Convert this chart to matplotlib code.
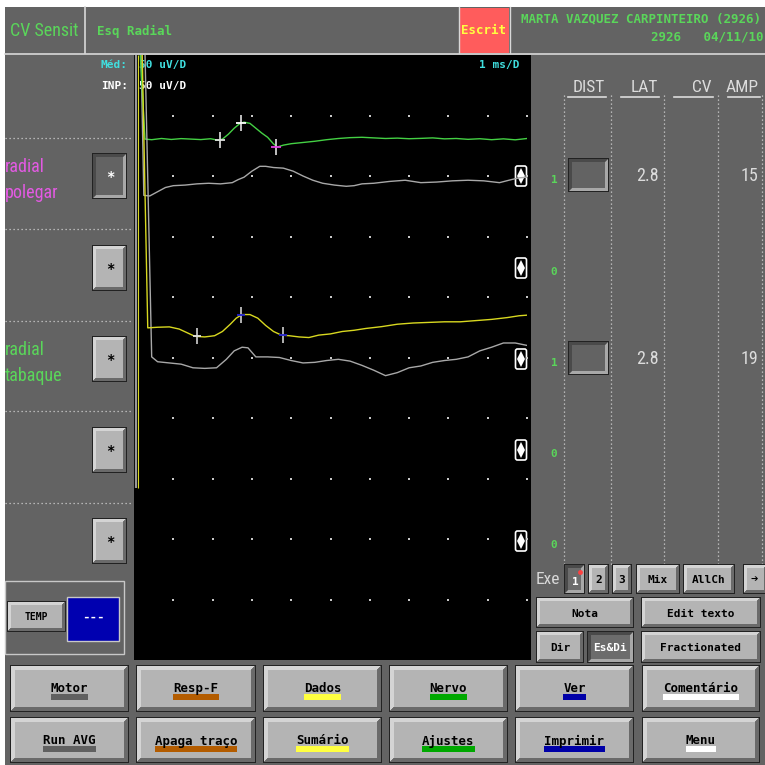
import matplotlib
matplotlib.use('Agg')
import matplotlib.pyplot as plt
import matplotlib.font_manager as fm
from matplotlib.patches import Rectangle, Polygon, FancyBboxPatch

# ---------------- data ----------------
UV_PER_DIV = 50.0
# trace 1 (radial polegar) averaged (green) and raw (gray)
t_green = [0.15, 0.28, 0.45, 0.7, 0.95, 1.2, 1.45, 1.7, 1.95, 2.15, 2.25, 2.4, 2.55, 2.7, 2.8, 2.95, 3.1, 3.25,
           3.4, 3.55, 3.65, 3.8, 4.0, 4.3, 4.6, 4.9, 5.2, 5.5, 5.8, 6.1, 6.4, 6.7, 7.0, 7.3, 7.6, 7.9, 8.2, 8.5,
           8.8, 9.1, 9.4, 9.7, 10.0]
v_green = [75, 0, -0.5, 0.5, -0.3, 0.4, 0, -0.4, 0.3, -1, 0, 4, 9, 13, 14, 13, 9, 5, 1.5, -4, -6.5, -5, -3.8,
           -2.8, -1.8, -0.5, 0.5, 1.2, 1.5, 1, 0.5, 0.8, 0.3, 0.6, 1, 0.2, 0.5, -0.2, 0.3, -0.5, 0.2, -0.6, 0.5]
t_gray1 = [0.12, 0.25, 0.4, 0.6, 0.8, 1.0, 1.3, 1.6, 1.9, 2.2, 2.5, 2.65, 2.8, 3.0, 3.2, 3.35, 3.55, 3.8, 4.05,
           4.3, 4.55, 4.8, 5.1, 5.4, 5.6, 5.8, 6.1, 6.5, 6.9, 7.3, 7.7, 8.1, 8.5, 8.9, 9.3, 9.6, 9.8, 10.0]
v_gray1 = [200, -10, -10.5, -7, -3.5, -2, -1.5, -0.5, 0, -0.5, 0.5, 3, 5, 10, 14, 14, 13, 12.5, 10, 6, 2.5, 0,
           -1.5, -2.5, -2, -0.5, 0, 1.5, 2.5, 0.5, 1, 2, 2.5, 2, 0.5, 3, 4.5, 5]
# trace 2 (radial tabaque) averaged (yellow) and raw (gray)
t_yellow = [0.1, 0.35, 0.6, 0.9, 1.15, 1.35, 1.55, 1.8, 2.05, 2.25, 2.45, 2.6, 2.75, 2.95, 3.15, 3.35, 3.55, 3.75,
            3.95, 4.2, 4.45, 4.7, 5.0, 5.3, 5.6, 5.9, 6.3, 6.7, 7.1, 7.5, 7.9, 8.3, 8.7, 9.1, 9.5, 9.8, 10.0]
v_yellow = [400, 0, 0.5, 0.8, -1, -4, -7, -7.5, -6.5, -3, 3, 8, 11, 11, 8, 2, -3, -6, -6.5, -7.5, -8, -6, -5, -3,
            -2, -0.5, 1, 3, 4, 4.5, 5, 5, 6, 7, 8.5, 10, 10.5]
t_gray2 = [0.25, 0.45, 0.6, 0.9, 1.2, 1.5, 1.8, 2.1, 2.35, 2.55, 2.75, 2.9, 3.1, 3.4, 3.7, 4.0, 4.3, 4.6, 4.9, 5.2,
           5.5, 5.8, 6.1, 6.4, 6.7, 7.0, 7.3, 7.6, 7.9, 8.2, 8.5, 8.8, 9.1, 9.4, 9.7, 10.0]
v_gray2 = [300, 5, 1, 0, -1, -4, -4.5, -4, 3, 10, 13, 12.5, 5, 5, 4.5, 2, 0, 0.5, 2, 3, 1.5, -2, -6, -10.5, -8,
           -4, -2.5, 0.5, 2, 3, 5, 10, 13, 16.5, 16.5, 14.5]
offset_div = {'green': 8.61, 'gray1': 7.88, 'yellow': 5.49, 'gray2': 4.91}
# latency cursors
cur1_t = [2.2, 2.72, 3.62]
cur1_v = [-0.5, 13.5, -6.5]
cur2_t = [1.6, 2.72, 3.8]
cur2_v = [-7, 11, -6]

# results table
row_channel = ['1', '0', '1', '0', '0']
row_lat = ['2.8', '', '2.8', '', '']
row_amp = ['15', '', '19', '', '']
table_headers = ['DIST', 'LAT', 'CV', 'AMP']
site_labels = [('radial', 'polegar', '#e35ae3'), ('radial', 'tabaque', '#5ad65a')]

bottom_row1 = [('Motor', '#606060'), ('Resp-F', '#b35c00'), ('Dados', '#ffff40'),
               ('Nervo', '#00a800'), ('Ver', '#0000a8'), ('Comentário', '#ffffff')]
bottom_row2 = [('Run AVG', '#606060'), ('Apaga traço', '#b35c00'), ('Sumário', '#ffff40'),
               ('Ajustes', '#00a800'), ('Imprimir', '#0000a8'), ('Menu', '#ffffff')]

# ---------------- fonts ----------------
MONO = 'DejaVu Sans Mono'
_cond = sorted({f.name for f in fm.fontManager.ttflist
                if ('Condensed' in f.name or 'Narrow' in f.name
                    or str(f.stretch) in ('condensed', 'semi-condensed', 'extra-condensed', '75', '87', '62'))})
NARROW_OK = False
NARROW = ['Roboto', 'DejaVu Sans']
for pref in ['Liberation Sans Narrow', 'Roboto Condensed', 'Open Sans Condensed', 'Noto Sans Condensed',
             'Noto Sans Display Condensed', 'DejaVu Sans Condensed']:
    if pref in _cond:
        NARROW = [pref, 'DejaVu Sans']
        NARROW_OK = True
        break
if not NARROW_OK and _cond:
    NARROW = [_cond[0], 'DejaVu Sans']
    NARROW_OK = True
NSIZE = 12 if NARROW_OK else 10.5
NWEIGHT = 'normal' if NARROW_OK else 'light'

# ---------------- figure ----------------
W = 765
fig = plt.figure(figsize=(7.65, 7.65), dpi=100)
fig.patch.set_facecolor('white')
ax = fig.add_axes([0, 0, 1, 1])
ax.set_xlim(0, W)
ax.set_ylim(W, 0)
ax.axis('off')

GRAY = '#636363'
ax.add_patch(Rectangle((5, 7), 760, 758, fc=GRAY, ec='none', zorder=0))


def ntext(x, y, s, color, ha='left', size=None):
    ax.text(x, y, s, color=color, fontsize=size or NSIZE, family=NARROW, weight=NWEIGHT,
            fontstretch='condensed', ha=ha, va='center', zorder=5)


def button(x0, y0, x1, y1, pressed=False, b=3, face=None):
    if face is None:
        face = '#6c6c6c' if pressed else '#b4b4b4'
    light, dark = ('#4a4a4a', '#a8a8a8') if pressed else ('#d4d4d4', '#6a6a6a')
    ax.add_patch(Rectangle((x0, y0), x1 - x0, y1 - y0, fc='#222222', ec='none', zorder=2))
    a0, c0, a1, c1 = x0 + 1, y0 + 1, x1 - 1, y1 - 1
    ax.add_patch(Polygon([(a0, c0), (a1, c0), (a1 - b, c0 + b), (a0 + b, c0 + b), (a0 + b, c1 - b), (a0, c1)],
                         closed=True, fc=light, ec='none', zorder=2))
    ax.add_patch(Polygon([(a1, c0), (a1, c1), (a0, c1), (a0 + b, c1 - b), (a1 - b, c1 - b), (a1 - b, c0 + b)],
                         closed=True, fc=dark, ec='none', zorder=2))
    ax.add_patch(Rectangle((a0 + b, c0 + b), a1 - a0 - 2 * b, c1 - c0 - 2 * b, fc=face, ec='none', zorder=2))


def btext(x, y, s, color='black', size=8.5, **kw):
    ax.text(x, y, s, color=color, fontsize=size, family=MONO, weight='bold', ha='center', va='center',
            zorder=5, **kw)


# ---------------- header ----------------
ax.plot([5, 765], [53.5, 53.5], color='#d8d8d8', lw=1.2, zorder=1)
ax.plot([85.5, 85.5], [7, 53], color='#d8d8d8', lw=1.2, zorder=1)
ax.add_patch(Rectangle((459, 8), 50, 45, fc='#ff5c5c', ec='none', zorder=1))
ax.plot([459, 459], [7, 53], color='#d8d8d8', lw=1, zorder=1)
ax.plot([510, 510], [7, 53], color='#d8d8d8', lw=1, zorder=1)
ntext(10, 31, 'CV Sensit', '#5ad65a', size=NSIZE + 1)
ax.text(97, 31, 'Esq Radial', color='#5ad65a', fontsize=9, family=MONO, weight='bold', va='center')
ax.text(484, 30, 'Escrit', color='#ffff40', fontsize=9, family=MONO, weight='bold', va='center', ha='center')
ax.text(521, 19, 'MARTA VAZQUEZ CARPINTEIRO (2926)', color='#5ad65a', fontsize=9, family=MONO,
        weight='bold', va='center', ha='left')
ax.text(651, 37, '2926   04/11/10', color='#5ad65a', fontsize=9, family=MONO, weight='bold',
        va='center', ha='left')

# ---------------- trace area ----------------
ax.add_patch(Rectangle((134, 55), 397, 605, fc='black', ec='none', zorder=1))
ax.text(128, 65, 'Méd:', color='#40e0e0', fontsize=8, family=MONO, weight='bold', va='center', ha='right', zorder=6)
ax.text(128, 86, 'INP:', color='white', fontsize=8, family=MONO, weight='bold', va='center', ha='right', zorder=6)
ax.text(139, 65, '50 uV/D', color='#40e0e0', fontsize=8, family=MONO, weight='bold', va='center', zorder=6)
ax.text(139, 86, '50 uV/D', color='white', fontsize=8, family=MONO, weight='bold', va='center', zorder=6)
ax.text(520, 65, '1 ms/D', color='#40e0e0', fontsize=8, family=MONO, weight='bold', va='center', ha='right',
        zorder=6)

axt = fig.add_axes([134 / W, 1 - 660 / W, (527 - 134) / W, 605 / W])
axt.set_xlim(0, 10)
axt.set_ylim(0, 10)
axt.patch.set_alpha(0)
axt.axis('off')
# graticule dots
for k in range(1, 11):
    axt.scatter([k] * 9, list(range(1, 10)), s=1.2, c='#c8c8c8', marker='s', lw=0, zorder=1)
# stimulus artifact verticals
axt.vlines(0.04, 2.85, 10, color='#9a9a9a', lw=1.6, zorder=2)
axt.vlines(0.1, 2.85, 10, color='#d8d820', lw=0.8, zorder=2)


def tr(tv, vv, key):
    return tv, [offset_div[key] + v / UV_PER_DIV for v in vv]


axt.plot(*tr(t_gray1, v_gray1, 'gray1'), color='#a8a8a8', lw=1.0, zorder=3)
axt.plot(*tr(t_green, v_green, 'green'), color='#44d044', lw=1.0, zorder=3)
axt.plot(*tr(t_gray2, v_gray2, 'gray2'), color='#a8a8a8', lw=1.0, zorder=3)
axt.plot(*tr(t_yellow, v_yellow, 'yellow'), color='#d8d820', lw=1.0, zorder=3)

g_t, g_y = tr(cur1_t, cur1_v, 'green')
for (tt, yy, hc) in zip(g_t, g_y, ['#e0e0e0', '#ffffff', '#e040e0']):
    axt.plot([tt], [yy], marker='|', ms=11, color='#d0d0d0', mew=1.3, zorder=4)
    axt.plot([tt], [yy], marker='_', ms=7, color=hc, mew=1.3, zorder=4)
y_t, y_y = tr(cur2_t, cur2_v, 'yellow')
for (tt, yy, hc) in zip(y_t, y_y, ['#e0e0e0', '#2020d0', '#2020d0']):
    axt.plot([tt], [yy], marker='|', ms=11, color='#c0c0c0', mew=1.3, zorder=4)
    axt.plot([tt], [yy], marker='_', ms=6, color=hc, mew=1.3, zorder=4)

# scroll icons
row_y = [176, 268, 359, 450, 541]
for yc in row_y:
    ax.add_patch(FancyBboxPatch((515.5, yc - 10), 11, 20, boxstyle='round,pad=0,rounding_size=2',
                                fc='black', ec='white', lw=1.2, zorder=6))
    ax.plot([521], [yc - 4], marker='^', ms=6, color='white', mew=0, zorder=7)
    ax.plot([521], [yc + 4], marker='v', ms=6, color='white', mew=0, zorder=7)

# ---------------- left panel ----------------
for yl in [138, 229, 321, 411, 503]:
    ax.plot([5, 133], [yl, yl], color='#d0d0d0', lw=0.9, ls=(0, (1, 2.2)), zorder=2)
site_y = [(167, 193), (350, 376)]
for (l1, l2, col), (y1, y2) in zip(site_labels, site_y):
    ntext(5, y1, l1, col, size=NSIZE + 1)
    ntext(5, y2, l2, col, size=NSIZE + 1)
for i, yc in enumerate(row_y):
    pressed = (i == 0)
    button(92, yc - 23, 127, yc + 23, pressed=pressed, b=3, face=GRAY if pressed else None)
    ax.text(110, yc + 1, '*', color='white' if pressed else 'black', fontsize=10, family=MONO, weight='bold',
            ha='center', va='center', zorder=5)
# temperature box
ax.add_patch(Rectangle((5, 580.5), 119, 73, fc='none', ec='#c8c8c8', lw=1, zorder=2))
button(7, 601, 66, 632, b=3)
btext(36.5, 617, 'TEMP', size=7)
ax.add_patch(Rectangle((67, 596.5), 52, 44, fc='#0000b0', ec='#c8c8c8', lw=1, zorder=3))
btext(93, 617, '---', color='white', size=9)

# ---------------- right panel ----------------
hdr_x = [(568, 606), (621, 659), (674, 713), (728, 760)]
for h, (x0, x1) in zip(table_headers, hdr_x):
    ntext(x1 - 1, 87, h, '#dcdcdc', ha='right', size=NSIZE + 0.5)
    ax.plot([x0, x1], [96.5, 96.5], color='#dcdcdc', lw=1.2, zorder=5)
for xv in [564, 611, 664, 718, 762]:
    ax.plot([xv, xv], [95, 565], color='#d0d0d0', lw=0.9, ls=(0, (1, 2.2)), zorder=2)
for yc, ch, lat, amp in zip(row_y, row_channel, row_lat, row_amp):
    ax.text(554, yc + 4, ch, color='#5ad65a', fontsize=8, family=MONO, weight='bold', ha='center',
            va='center', zorder=5)
    if lat:
        button(568, yc - 18, 609, yc + 16, pressed=True, b=3, face=GRAY)
        ntext(659, yc, lat, '#dcdcdc', ha='right', size=NSIZE + 1)
        ntext(758, yc, amp, '#dcdcdc', ha='right', size=NSIZE + 1)

ntext(536, 580, 'Exe', '#d8d8d8', size=NSIZE + 0.5)
button(564, 564, 585, 594, pressed=True, b=3)
btext(575, 582, '1', color='white', size=8)
ax.plot([580], [572], marker='o', ms=3.5, color='#ff4040', mew=0, zorder=6)
button(588, 564, 609, 594, b=3)
btext(599, 580, '2', size=8)
button(612, 564, 632, 594, b=3)
btext(622, 580, '3', size=8)
button(636, 564, 680, 594, b=3)
btext(658, 580, 'Mix', size=8)
button(683, 564, 735, 594, b=3)
btext(709, 580, 'AllCh', size=8)
button(743, 564, 768, 594, b=3)
btext(754, 580, '➔', size=9)

button(536, 597, 634, 628, b=3)
btext(585, 614, 'Nota', size=8)
button(641, 597, 761, 628, b=3)
btext(701, 614, 'Edit texto', size=8)
button(536, 631, 584, 663, b=3)
btext(560, 648, 'Dir', size=8)
button(587, 631, 634, 663, pressed=True, b=3)
btext(610, 648, 'Es&Di', color='white', size=8)
button(641, 631, 761, 663, b=3)
btext(701, 648, 'Fractionated', size=8)

# ---------------- bottom buttons ----------------
col_x = [(10, 129), (136, 256), (263, 382), (389, 508), (515, 634), (642, 760)]
char_px = 0.602 * 9 * 100 / 72
for (y0, y1, ty, by), row in [((665, 712, 688.5, 694), bottom_row1), ((717, 763, 741, 746), bottom_row2)]:
    for (x0, x1), (lab, col) in zip(col_x, row):
        button(x0, y0, x1, y1, b=4)
        xc = (x0 + x1) / 2
        w = len(lab) * char_px
        ax.add_patch(Rectangle((xc - w / 2, by), w, 6, fc=col, ec='none', zorder=4))
        ax.text(xc, ty, lab, color='black', fontsize=9, family=MONO, weight='bold', ha='center', va='center',
                zorder=5)

fig.savefig('out.png', dpi=100, facecolor='white')
